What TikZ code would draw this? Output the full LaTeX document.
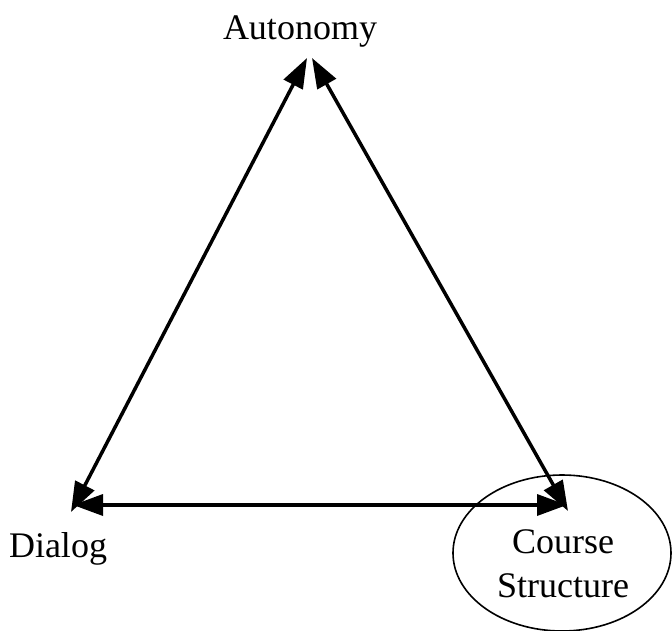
\documentclass[tikz,border=0pt]{standalone}
\usepackage{fontspec}
\setmainfont{Liberation Serif}
\usetikzlibrary{arrows.meta}
\begin{document}
\begin{tikzpicture}[x=1pt,y=-1pt,
  labeltext/.style={font=\fontsize{36}{44}\selectfont, inner sep=0pt, anchor=base},
  link/.style={line width=3.5pt,
    {Triangle[length=30pt,width=21pt]}-{Triangle[length=30pt,width=21pt]}},
  ring/.style={line width=1.6pt}]
\useasboundingbox (0,0) rectangle (672,631);

% the three corners
\node[labeltext] (autonomy) at (300,40) {Autonomy};
\node[labeltext] (dialog) at (58,557) {Dialog};
\node[labeltext, align=center] (course) at (563,597) {Course\\Structure};

% ring around the course structure corner
\draw[ring] (562,553) ellipse [x radius=109, y radius=78];

% arrow end points at each corner
\coordinate (autL) at (307,58);
\coordinate (autR) at (312,58);
\coordinate (dlgD) at (71,512);
\coordinate (dlgH) at (73,505);
\coordinate (crsD) at (568,511);
\coordinate (crsH) at (567,505);

% two-way links between the corners
\draw[link] (dlgD) -- (autL);
\draw[link] (autR) -- (crsD);
\draw[link] (dlgH) -- (crsH);
\end{tikzpicture}
\end{document}
